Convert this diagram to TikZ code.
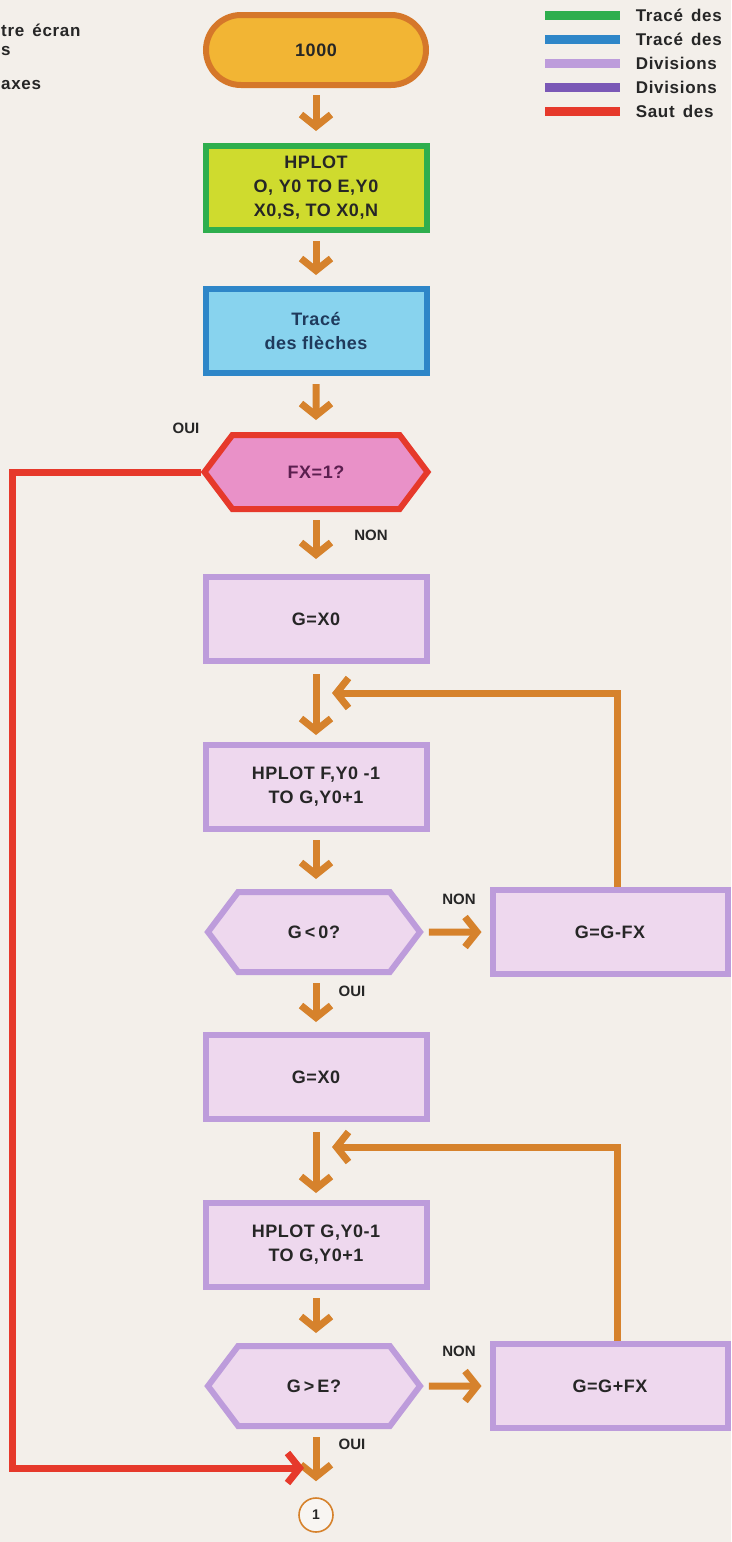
\documentclass[tikz,border=0pt]{standalone}
\usepackage{fontspec}
\setmainfont{Liberation Sans}
\newfontfamily\boxfont{Liberation Sans}[LetterSpace=3]
\newfontfamily\keyfont{Liberation Sans}[LetterSpace=4, WordSpace=1.5]
\usetikzlibrary{arrows.meta,shapes.symbols}

\definecolor{paper}{HTML}{F3EFEA}
\definecolor{flowc}{HTML}{D6822C}
\definecolor{termfill}{HTML}{F2B534}
\definecolor{termline}{HTML}{D5772A}
\definecolor{greenline}{HTML}{2EAE4E}
\definecolor{greenfill}{HTML}{CFDB2E}
\definecolor{blueline}{HTML}{2E86C8}
\definecolor{bluefill}{HTML}{88D3EE}
\definecolor{blueink}{HTML}{1F3A5C}
\definecolor{redline}{HTML}{E6392B}
\definecolor{pinkfill}{HTML}{E991C8}
\definecolor{pinkink}{HTML}{5B1F4F}
\definecolor{lavline}{HTML}{BD9CDB}
\definecolor{lavfill}{HTML}{EED8EE}
\definecolor{purpleline}{HTML}{7A58B6}
\definecolor{ink}{HTML}{262626}

\tikzset{
  txt/.style={font=\boxfont\bfseries\fontsize{18}{24}\selectfont, text=ink, align=center},
  stepbox/.style={txt, draw=#1, line width=6pt, minimum width=221pt, minimum height=84pt, inner sep=0pt},
  term/.style={txt, draw=termline, fill=termfill, line width=6pt, rounded corners=35pt,
    minimum width=220pt, minimum height=70pt},
  hexa/.style={txt, signal, signal to=west and east, signal pointer angle=106, draw=#1,
    line width=6pt, minimum width=212pt, minimum height=80pt, inner sep=0pt},
  flow/.style={draw=flowc, line width=7pt, -{Straight Barb[length=12pt, width=30pt]}},
  jump/.style={draw=redline, line width=7pt, -{Straight Barb[length=12pt, width=30pt]}},
  lab/.style={font=\bfseries\fontsize{15}{17}\selectfont, text=ink},
  key/.style={line width=9pt},
  keytext/.style={font=\keyfont\bfseries\fontsize{17}{19}\selectfont, text=ink, anchor=west},
}

\begin{document}
\begin{tikzpicture}[x=1pt, y=-1pt]
\useasboundingbox (0,0) rectangle (731,1542);
\fill[paper] (0,0) rectangle (731,1542);

% margin notes on the left, cut by the page edge
\node[keytext, anchor=base west, inner sep=0pt] (noteA) at (1,36) {tre écran};
\node[keytext, anchor=base west, inner sep=0pt] (noteB) at (1,55) {s};
\node[keytext, anchor=base west, inner sep=0pt] (noteC) at (1,89) {axes};

% legend
\draw[key, greenline]  (545,15)  -- (620,15)  node[keytext, right=8pt] (keyA) {Tracé des};
\draw[key, blueline]   (545,39)  -- (620,39)  node[keytext, right=8pt] (keyB) {Tracé des};
\draw[key, lavline]    (545,63)  -- (620,63)  node[keytext, right=8pt] (keyC) {Divisions};
\draw[key, purpleline] (545,87)  -- (620,87)  node[keytext, right=8pt] (keyD) {Divisions};
\draw[key, redline]    (545,111) -- (620,111) node[keytext, right=8pt] (keyE) {Saut des};

% main column
\node[term] (start) at (316,50) {1000};
\node[stepbox=greenline, fill=greenfill] (axes) at (316,188) {HPLOT\\O, Y0 TO E,Y0\\X0,S, TO X0,N};
\node[stepbox=blueline, fill=bluefill, text=blueink] (arrows) at (316,331) {Tracé\\des flèches};
\node[hexa=redline, fill=pinkfill, text=pinkink, minimum width=223pt, minimum height=74pt] (fx) at (316,472) {FX=1?};
\node[stepbox=lavline, fill=lavfill] (gxa) at (316,619) {G=X0};
\node[stepbox=lavline, fill=lavfill] (plotf) at (316,787) {HPLOT F,Y0 -1\\TO G,Y0+1};
\node[hexa=lavline, fill=lavfill] (glt) at (314,932) {G\,{\normalfont\bfseries<}\,0?};
\node[stepbox=lavline, fill=lavfill, minimum width=235pt] (gminus) at (610,932) {G=G-FX};
\node[stepbox=lavline, fill=lavfill] (gxb) at (316,1077) {G=X0};
\node[stepbox=lavline, fill=lavfill] (plotg) at (316,1245) {HPLOT G,Y0-1\\TO G,Y0+1};
\node[hexa=lavline, fill=lavfill] (ggt) at (314,1386) {G\,{\normalfont\bfseries>}\,E?};
\node[stepbox=lavline, fill=lavfill, minimum width=235pt] (gplus) at (610,1386) {G=G+FX};
\node[circle, draw=flowc, line width=1.6pt, fill=paper!60!white, minimum size=34pt,
  inner sep=0pt, font=\bfseries\fontsize{14}{16}\selectfont, text=ink] (one) at (316,1515) {1};

% feedback and jump ends
\coordinate (backA) at (332,693);
\coordinate (backB) at (332,1147);
\coordinate (jumpend) at (304,1468);

% connectors
\draw[flow, shorten <=7pt, shorten >=12pt] (start) -- (axes);
\draw[flow, shorten <=8pt, shorten >=11pt] (axes) -- (arrows);
\draw[flow, shorten <=8pt, shorten >=12pt] (arrows) -- (fx);
\draw[flow, shorten <=8pt, shorten >=15pt] (fx) -- (gxa);
\draw[flow, shorten <=10pt, shorten >=7pt] (gxa) -- (plotf);
\draw[flow, shorten <=8pt, shorten >=10pt] (plotf.south) -- (plotf.south |- glt.north);
\draw[flow, shorten <=5pt, shorten >=8pt] (glt) -- (gminus);
\draw[flow, shorten <=8pt, shorten >=10pt] (gxb.north |- glt.south) -- (gxb.north);
\draw[flow] ([xshift=7pt]gminus.north) |- (backA);
\draw[flow, shorten <=10pt, shorten >=7pt] (gxb) -- (plotg);
\draw[flow, shorten <=8pt, shorten >=10pt] (plotg.south) -- (plotg.south |- ggt.north);
\draw[flow, shorten <=5pt, shorten >=8pt] (ggt) -- (gplus);
\draw[flow, shorten <=8pt, shorten >=16pt] (one.north |- ggt.south) -- (one.north);
\draw[flow] ([xshift=7pt]gplus.north) |- (backB);
\draw[jump] (fx.west) -| (12,1468) -- (jumpend);

% branch labels
\node[lab] (ouiA) at (186,428) {OUI};
\node[lab] (nonA) at (371,535) {NON};
\node[lab] (nonB) at (459,899) {NON};
\node[lab] (ouiB) at (352,991) {OUI};
\node[lab] (nonC) at (459,1351) {NON};
\node[lab] (ouiC) at (352,1444) {OUI};
\end{tikzpicture}
\end{document}
